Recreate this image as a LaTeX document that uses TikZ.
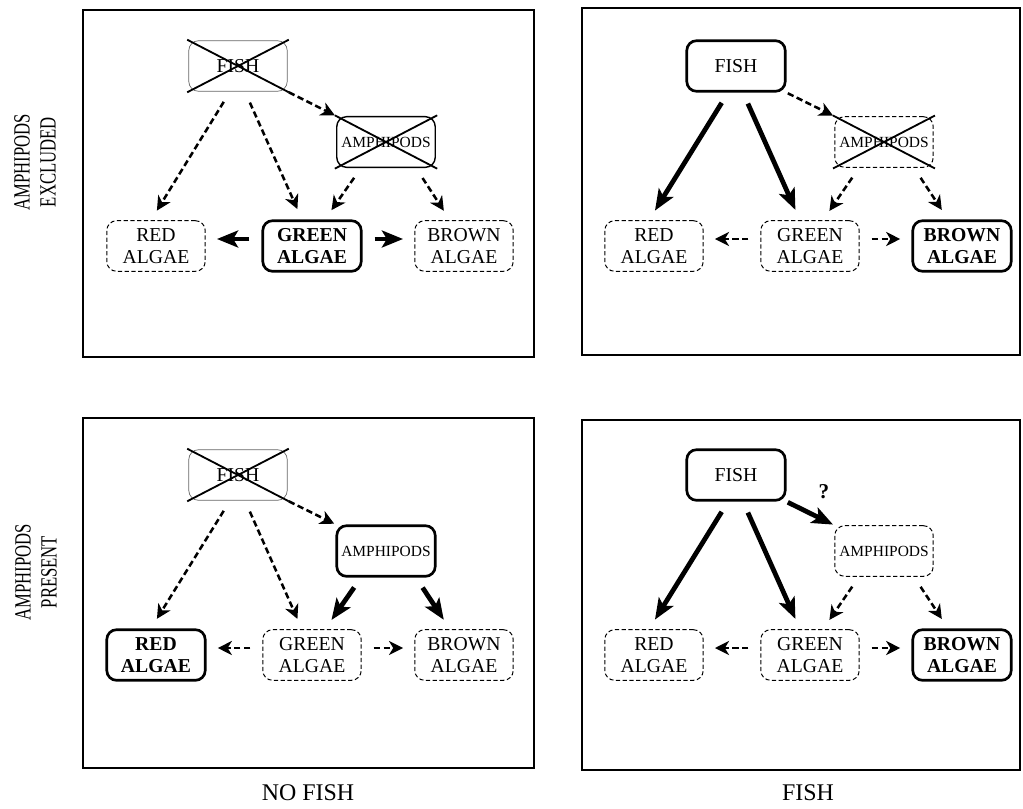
\documentclass[tikz,border=0pt]{standalone}
\usepackage{fontspec}
\setmainfont{Liberation Serif}
\usetikzlibrary{arrows.meta}

\tikzset{
  box/.style={rounded corners=7pt, minimum width=70pt, minimum height=36pt, align=center, inner sep=2pt, font=\fontsize{14}{15.5}\selectfont},
  weak/.style={box, draw, line width=0.7pt, dash pattern=on 3pt off 1.8pt},
  normalbox/.style={box, draw, line width=1pt},
  strong/.style={box, draw, line width=1.9pt, font=\bfseries\fontsize{14}{15.5}\selectfont},
  gone/.style={box, draw=black!60, line width=0.5pt},
  amph/.style={font=\fontsize{11}{13}\selectfont},
  crossline/.style={line width=1.3pt, shorten <=-1pt, shorten >=-1pt},
  dasharrow/.style={line width=1.8pt, dash pattern=on 4.5pt off 2.5pt, -{Stealth[length=10pt,width=10pt,inset=3pt]}},
  strongarrow/.style={line width=3.4pt, -{Stealth[length=15pt,width=12pt,inset=3.5pt]}},
  gap/.style={shorten <=8.5pt, shorten >=8pt},
  panel/.style={line width=1.6pt},
  sidelabel/.style={rotate=90, xscale=0.72, align=center, font=\fontsize{16.5}{18.5}\selectfont},
  bottomlabel/.style={font=\fontsize{17}{17}\selectfont}
}

\begin{document}
\begin{tikzpicture}[x=0.025cm, y=-0.025cm]
  \useasboundingbox (0,0) rectangle (1023,808);

  \draw[panel] (83,10) rectangle (534,357);
  \draw[panel] (582,8) rectangle (1020,355);
  \draw[panel] (83,418) rectangle (534,768);
  \draw[panel] (582,420) rectangle (1020,770);

  \node[sidelabel] (excluded) at (35,162) {AMPHIPODS\\EXCLUDED};
  \node[sidelabel] (present) at (36,572) {AMPHIPODS\\PRESENT};
  \node[bottomlabel] (nofish) at (308,793) {NO FISH};
  \node[bottomlabel] (withfish) at (808,793) {FISH};

  % no fish, amphipods excluded
  \begin{scope}
    \node[gone] (fishTL) at (238,66) {FISH};
    \node[normalbox, amph] (amphTL) at (386,142) {AMPHIPODS};
    \node[weak] (redTL) at (156,246) {RED\\ALGAE};
    \node[strong] (greenTL) at (312,246) {GREEN\\ALGAE};
    \node[weak] (brownTL) at (464,246) {BROWN\\ALGAE};
    \draw[crossline] (fishTL.north west) -- (fishTL.south east);
    \draw[crossline] (fishTL.south west) -- (fishTL.north east);
    \draw[crossline] (amphTL.north west) -- (amphTL.south east);
    \draw[crossline] (amphTL.south west) -- (amphTL.north east);
    \draw[dasharrow, gap] ([shift={(-8,0)}]fishTL.south) -- ([shift={(-5,0)}]redTL.north);
    \draw[dasharrow, gap] ([shift={(7,0)}]fishTL.south) -- ([shift={(-10,0)}]greenTL.north);
    \draw[dasharrow, shorten <=1pt, shorten >=1pt] (fishTL.south east) -- (amphTL.north west);
    \draw[dasharrow, gap] ([shift={(-25,0)}]amphTL.south) -- ([shift={(13,0)}]greenTL.north);
    \draw[dasharrow, gap] ([shift={(30,0)}]amphTL.south) -- ([shift={(-14,0)}]brownTL.north);
    \draw[strongarrow, gap] ([shift={(0,-7)}]greenTL.west) -- ([shift={(0,-7)}]redTL.east);
    \draw[strongarrow, gap] ([shift={(0,-7)}]greenTL.east) -- ([shift={(0,-7)}]brownTL.west);
  \end{scope}

  % fish, amphipods excluded
  \begin{scope}[shift={(498,0)}]
    \node[strong, font=\fontsize{14}{15.5}\selectfont] (fishTR) at (238,66) {FISH};
    \node[weak, amph] (amphTR) at (386,142) {AMPHIPODS};
    \node[weak] (redTR) at (156,246) {RED\\ALGAE};
    \node[weak] (greenTR) at (312,246) {GREEN\\ALGAE};
    \node[strong] (brownTR) at (464,246) {BROWN\\ALGAE};
    \draw[crossline] (amphTR.north west) -- (amphTR.south east);
    \draw[crossline] (amphTR.south west) -- (amphTR.north east);
    \draw[strongarrow, gap] ([shift={(-8,0)}]fishTR.south) -- ([shift={(-5,0)}]redTR.north);
    \draw[strongarrow, gap] ([shift={(7,0)}]fishTR.south) -- ([shift={(-10,0)}]greenTR.north);
    \draw[dasharrow, shorten <=1pt, shorten >=1pt] (fishTR.south east) -- (amphTR.north west);
    \draw[dasharrow, gap] ([shift={(-25,0)}]amphTR.south) -- ([shift={(13,0)}]greenTR.north);
    \draw[dasharrow, gap] ([shift={(30,0)}]amphTR.south) -- ([shift={(-14,0)}]brownTR.north);
    \draw[dasharrow, gap] ([shift={(0,-7)}]greenTR.west) -- ([shift={(0,-7)}]redTR.east);
    \draw[dasharrow, gap] ([shift={(0,-7)}]greenTR.east) -- ([shift={(0,-7)}]brownTR.west);
  \end{scope}

  % no fish, amphipods present
  \begin{scope}[shift={(0,409)}]
    \node[gone] (fishBL) at (238,66) {FISH};
    \node[strong, amph] (amphBL) at (386,142) {AMPHIPODS};
    \node[strong] (redBL) at (156,246) {RED\\ALGAE};
    \node[weak] (greenBL) at (312,246) {GREEN\\ALGAE};
    \node[weak] (brownBL) at (464,246) {BROWN\\ALGAE};
    \draw[crossline] (fishBL.north west) -- (fishBL.south east);
    \draw[crossline] (fishBL.south west) -- (fishBL.north east);
    \draw[dasharrow, gap] ([shift={(-8,0)}]fishBL.south) -- ([shift={(-5,0)}]redBL.north);
    \draw[dasharrow, gap] ([shift={(7,0)}]fishBL.south) -- ([shift={(-10,0)}]greenBL.north);
    \draw[dasharrow, shorten <=1pt, shorten >=1pt] (fishBL.south east) -- (amphBL.north west);
    \draw[strongarrow, gap] ([shift={(-25,0)}]amphBL.south) -- ([shift={(13,0)}]greenBL.north);
    \draw[strongarrow, gap] ([shift={(30,0)}]amphBL.south) -- ([shift={(-14,0)}]brownBL.north);
    \draw[dasharrow, gap] ([shift={(0,-7)}]greenBL.west) -- ([shift={(0,-7)}]redBL.east);
    \draw[dasharrow, gap] ([shift={(0,-7)}]greenBL.east) -- ([shift={(0,-7)}]brownBL.west);
  \end{scope}

  % fish, amphipods present
  \begin{scope}[shift={(498,409)}]
    \node[strong, font=\fontsize{14}{15.5}\selectfont] (fishBR) at (238,66) {FISH};
    \node[weak, amph] (amphBR) at (386,142) {AMPHIPODS};
    \node[weak] (redBR) at (156,246) {RED\\ALGAE};
    \node[weak] (greenBR) at (312,246) {GREEN\\ALGAE};
    \node[strong] (brownBR) at (464,246) {BROWN\\ALGAE};
    \node[font=\bfseries\fontsize{15}{15}\selectfont] (query) at (326,83) {?};
    \draw[strongarrow, gap] ([shift={(-8,0)}]fishBR.south) -- ([shift={(-5,0)}]redBR.north);
    \draw[strongarrow, gap] ([shift={(7,0)}]fishBR.south) -- ([shift={(-10,0)}]greenBR.north);
    \draw[strongarrow, shorten <=1pt, shorten >=1pt] (fishBR.south east) -- (amphBR.north west);
    \draw[dasharrow, gap] ([shift={(-25,0)}]amphBR.south) -- ([shift={(13,0)}]greenBR.north);
    \draw[dasharrow, gap] ([shift={(30,0)}]amphBR.south) -- ([shift={(-14,0)}]brownBR.north);
    \draw[dasharrow, gap] ([shift={(0,-7)}]greenBR.west) -- ([shift={(0,-7)}]redBR.east);
    \draw[dasharrow, gap] ([shift={(0,-7)}]greenBR.east) -- ([shift={(0,-7)}]brownBR.west);
  \end{scope}
\end{tikzpicture}
\end{document}
